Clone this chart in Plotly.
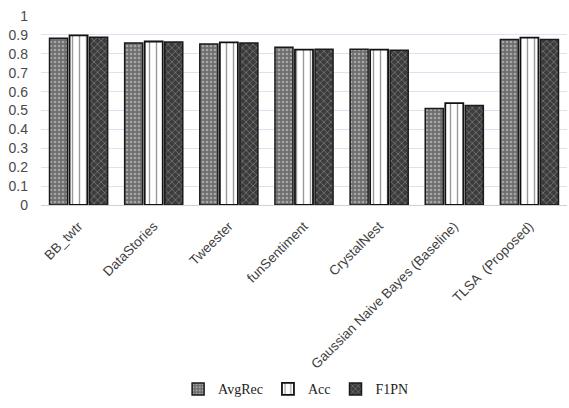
import plotly.graph_objects as go

# Classifier names on the category axis
systems = ["BB_twtr", "DataStories", "Tweester", "funSentiment", "CrystalNest",
           "Gaussian Naive Bayes (Baseline)", "TLSA  (Proposed)"]

# Scores per metric
avg_rec = [0.882, 0.857, 0.852, 0.834, 0.824, 0.510, 0.876]
acc = [0.898, 0.865, 0.860, 0.822, 0.822, 0.539, 0.886]
f1pn = [0.888, 0.862, 0.857, 0.824, 0.819, 0.526, 0.876]

y_ticks = [0, 0.1, 0.2, 0.3, 0.4, 0.5, 0.6, 0.7, 0.8, 0.9, 1]

fig = go.Figure()

fig.add_trace(go.Bar(
    name="AvgRec", x=systems, y=avg_rec,
    marker=dict(color="#7a7a7a",
                line=dict(color="#1a1a1a", width=1.5),
                pattern=dict(shape=".", fgcolor="#e0e0e0", bgcolor="#6e6e6e",
                             size=4, solidity=0.35, fillmode="overlay")),
))
fig.add_trace(go.Bar(
    name="Acc", x=systems, y=acc,
    marker=dict(color="white",
                line=dict(color="#111111", width=1.8),
                pattern=dict(shape="|", fgcolor="#333333", bgcolor="white",
                             size=7, solidity=0.2, fillmode="overlay")),
))
fig.add_trace(go.Bar(
    name="F1PN", x=systems, y=f1pn,
    marker=dict(color="#4a4a4a",
                line=dict(color="#1a1a1a", width=1.5),
                pattern=dict(shape="x", fgcolor="#b0b0b0", bgcolor="#3c3c3c",
                             size=5, solidity=0.3, fillmode="overlay")),
))

fig.update_layout(
    width=569, height=408,
    margin=dict(l=41, r=2, t=16, b=199),
    paper_bgcolor="white", plot_bgcolor="white",
    barmode="group", bargap=0.2, bargroupgap=0.1,
    font=dict(family="Liberation Sans, Arial, sans-serif", color="#595959"),
    legend=dict(orientation="h", x=0.485, xanchor="center", y=-0.975, yanchor="middle",
                font=dict(family="Liberation Serif, Times New Roman, serif",
                          size=14, color="#222222"),
                itemwidth=30, tracegroupgap=0, bgcolor="rgba(0,0,0,0)"),
    showlegend=True,
)

fig.update_xaxes(
    tickangle=-45, tickfont=dict(size=13.5, color="#404040"),
    showline=True, linecolor="#d0d0d0", linewidth=1,
    showgrid=False, ticks="", ticklabelstandoff=7,
)
fig.update_yaxes(
    range=[0, 1], tickvals=y_ticks, ticktext=[f"{v:g}" for v in y_ticks],
    tickfont=dict(size=14, color="#4a4a4a"),
    showgrid=True, gridcolor="#d9e4f2", gridwidth=1,
    zeroline=False, showline=False, ticks="", ticklabelstandoff=12,
)

fig.write_html("out.html")
